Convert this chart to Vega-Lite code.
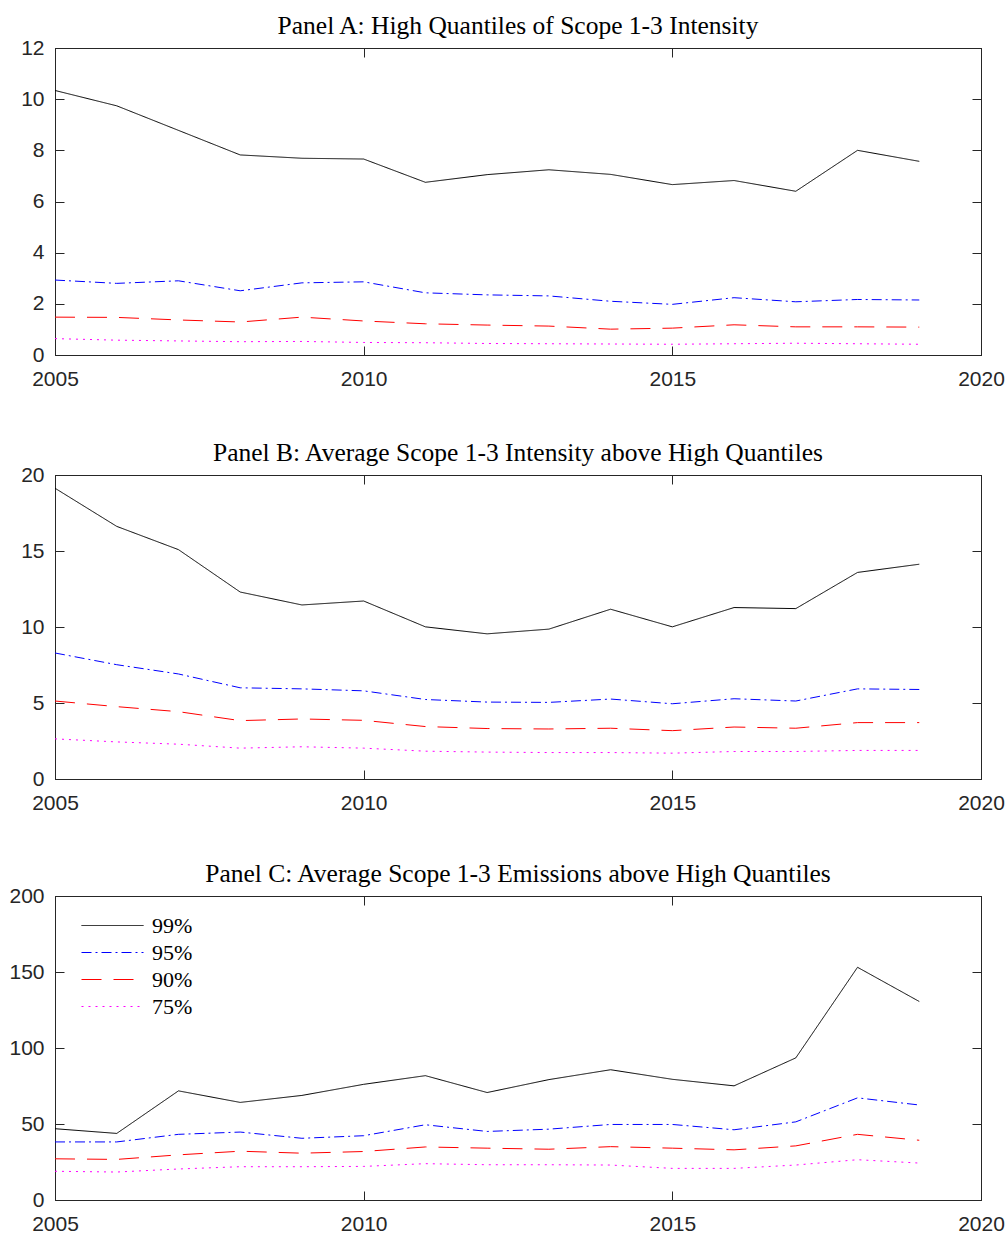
{
  "$schema": "https://vega.github.io/schema/vega-lite/v6.json",
  "autosize": {"type": "pad"},
  "padding": {"top": 13, "left": 8, "right": 2, "bottom": 2},
  "background": "white",
  "config": {
    "view": {"stroke": "#262626", "strokeWidth": 1},
    "axis": {"labelFont": "Liberation Sans", "labelFontSize": 21, "labelColor": "#262626", "domainColor": "#262626", "tickColor": "#262626", "tickSize": -9, "labelPadding": 20, "grid": false, "title": null},
    "axisX": {"labelPadding": 22},
    "title": {"font": "Liberation Serif", "fontSize": 25.5, "fontWeight": "normal", "color": "black", "anchor": "middle", "baseline": "alphabetic", "offset": -2},
    "line": {"strokeWidth": 1}
  },
  "datasets": {
    "A": [
      {"year":2005,"q":"99%","v":10.34},{"year":2006,"q":"99%","v":9.74},{"year":2007,"q":"99%","v":8.78},{"year":2008,"q":"99%","v":7.82},{"year":2009,"q":"99%","v":7.69},{"year":2010,"q":"99%","v":7.66},{"year":2011,"q":"99%","v":6.75},{"year":2012,"q":"99%","v":7.05},{"year":2013,"q":"99%","v":7.24},{"year":2014,"q":"99%","v":7.06},{"year":2015,"q":"99%","v":6.66},{"year":2016,"q":"99%","v":6.82},{"year":2017,"q":"99%","v":6.40},{"year":2018,"q":"99%","v":8.00},{"year":2019,"q":"99%","v":7.57},
      {"year":2005,"q":"95%","v":2.93},{"year":2006,"q":"95%","v":2.80},{"year":2007,"q":"95%","v":2.90},{"year":2008,"q":"95%","v":2.51},{"year":2009,"q":"95%","v":2.82},{"year":2010,"q":"95%","v":2.86},{"year":2011,"q":"95%","v":2.43},{"year":2012,"q":"95%","v":2.35},{"year":2013,"q":"95%","v":2.31},{"year":2014,"q":"95%","v":2.10},{"year":2015,"q":"95%","v":1.98},{"year":2016,"q":"95%","v":2.24},{"year":2017,"q":"95%","v":2.08},{"year":2018,"q":"95%","v":2.17},{"year":2019,"q":"95%","v":2.15},
      {"year":2005,"q":"90%","v":1.48},{"year":2006,"q":"90%","v":1.47},{"year":2007,"q":"90%","v":1.37},{"year":2008,"q":"90%","v":1.29},{"year":2009,"q":"90%","v":1.48},{"year":2010,"q":"90%","v":1.33},{"year":2011,"q":"90%","v":1.22},{"year":2012,"q":"90%","v":1.17},{"year":2013,"q":"90%","v":1.13},{"year":2014,"q":"90%","v":1.01},{"year":2015,"q":"90%","v":1.05},{"year":2016,"q":"90%","v":1.18},{"year":2017,"q":"90%","v":1.10},{"year":2018,"q":"90%","v":1.10},{"year":2019,"q":"90%","v":1.09},
      {"year":2005,"q":"75%","v":0.64},{"year":2006,"q":"75%","v":0.58},{"year":2007,"q":"75%","v":0.55},{"year":2008,"q":"75%","v":0.52},{"year":2009,"q":"75%","v":0.53},{"year":2010,"q":"75%","v":0.49},{"year":2011,"q":"75%","v":0.48},{"year":2012,"q":"75%","v":0.45},{"year":2013,"q":"75%","v":0.44},{"year":2014,"q":"75%","v":0.43},{"year":2015,"q":"75%","v":0.42},{"year":2016,"q":"75%","v":0.44},{"year":2017,"q":"75%","v":0.46},{"year":2018,"q":"75%","v":0.44},{"year":2019,"q":"75%","v":0.42}
    ],
    "B": [
      {"year":2005,"q":"99%","v":19.13},{"year":2006,"q":"99%","v":16.62},{"year":2007,"q":"99%","v":15.09},{"year":2008,"q":"99%","v":12.30},{"year":2009,"q":"99%","v":11.45},{"year":2010,"q":"99%","v":11.71},{"year":2011,"q":"99%","v":10.01},{"year":2012,"q":"99%","v":9.55},{"year":2013,"q":"99%","v":9.86},{"year":2014,"q":"99%","v":11.17},{"year":2015,"q":"99%","v":10.01},{"year":2016,"q":"99%","v":11.28},{"year":2017,"q":"99%","v":11.21},{"year":2018,"q":"99%","v":13.59},{"year":2019,"q":"99%","v":14.13},
      {"year":2005,"q":"95%","v":8.29},{"year":2006,"q":"95%","v":7.52},{"year":2007,"q":"95%","v":6.91},{"year":2008,"q":"95%","v":6.00},{"year":2009,"q":"95%","v":5.93},{"year":2010,"q":"95%","v":5.80},{"year":2011,"q":"95%","v":5.23},{"year":2012,"q":"95%","v":5.06},{"year":2013,"q":"95%","v":5.04},{"year":2014,"q":"95%","v":5.26},{"year":2015,"q":"95%","v":4.95},{"year":2016,"q":"95%","v":5.28},{"year":2017,"q":"95%","v":5.13},{"year":2018,"q":"95%","v":5.93},{"year":2019,"q":"95%","v":5.89},
      {"year":2005,"q":"90%","v":5.13},{"year":2006,"q":"90%","v":4.76},{"year":2007,"q":"90%","v":4.43},{"year":2008,"q":"90%","v":3.84},{"year":2009,"q":"90%","v":3.95},{"year":2010,"q":"90%","v":3.86},{"year":2011,"q":"90%","v":3.45},{"year":2012,"q":"90%","v":3.32},{"year":2013,"q":"90%","v":3.29},{"year":2014,"q":"90%","v":3.34},{"year":2015,"q":"90%","v":3.18},{"year":2016,"q":"90%","v":3.42},{"year":2017,"q":"90%","v":3.34},{"year":2018,"q":"90%","v":3.71},{"year":2019,"q":"90%","v":3.71},
      {"year":2005,"q":"75%","v":2.64},{"year":2006,"q":"75%","v":2.44},{"year":2007,"q":"75%","v":2.29},{"year":2008,"q":"75%","v":2.03},{"year":2009,"q":"75%","v":2.12},{"year":2010,"q":"75%","v":2.03},{"year":2011,"q":"75%","v":1.83},{"year":2012,"q":"75%","v":1.77},{"year":2013,"q":"75%","v":1.74},{"year":2014,"q":"75%","v":1.74},{"year":2015,"q":"75%","v":1.70},{"year":2016,"q":"75%","v":1.81},{"year":2017,"q":"75%","v":1.81},{"year":2018,"q":"75%","v":1.88},{"year":2019,"q":"75%","v":1.88}
    ],
    "C": [
      {"year":2005,"q":"99%","v":46.9},{"year":2006,"q":"99%","v":43.8},{"year":2007,"q":"99%","v":71.8},{"year":2008,"q":"99%","v":64.2},{"year":2009,"q":"99%","v":68.8},{"year":2010,"q":"99%","v":76.1},{"year":2011,"q":"99%","v":81.8},{"year":2012,"q":"99%","v":70.7},{"year":2013,"q":"99%","v":79.2},{"year":2014,"q":"99%","v":85.7},{"year":2015,"q":"99%","v":79.4},{"year":2016,"q":"99%","v":75.1},{"year":2017,"q":"99%","v":93.5},{"year":2018,"q":"99%","v":153.1},{"year":2019,"q":"99%","v":130.6},
      {"year":2005,"q":"95%","v":38.2},{"year":2006,"q":"95%","v":38.2},{"year":2007,"q":"95%","v":43.2},{"year":2008,"q":"95%","v":44.7},{"year":2009,"q":"95%","v":40.6},{"year":2010,"q":"95%","v":42.3},{"year":2011,"q":"95%","v":49.5},{"year":2012,"q":"95%","v":45.1},{"year":2013,"q":"95%","v":46.6},{"year":2014,"q":"95%","v":49.7},{"year":2015,"q":"95%","v":49.7},{"year":2016,"q":"95%","v":46.2},{"year":2017,"q":"95%","v":51.4},{"year":2018,"q":"95%","v":67.2},{"year":2019,"q":"95%","v":62.5},
      {"year":2005,"q":"90%","v":27.1},{"year":2006,"q":"90%","v":26.7},{"year":2007,"q":"90%","v":29.7},{"year":2008,"q":"90%","v":32.1},{"year":2009,"q":"90%","v":30.8},{"year":2010,"q":"90%","v":31.9},{"year":2011,"q":"90%","v":34.9},{"year":2012,"q":"90%","v":34.1},{"year":2013,"q":"90%","v":33.4},{"year":2014,"q":"90%","v":35.1},{"year":2015,"q":"90%","v":34.1},{"year":2016,"q":"90%","v":33.0},{"year":2017,"q":"90%","v":35.6},{"year":2018,"q":"90%","v":43.2},{"year":2019,"q":"90%","v":39.3},
      {"year":2005,"q":"75%","v":18.9},{"year":2006,"q":"75%","v":18.4},{"year":2007,"q":"75%","v":20.4},{"year":2008,"q":"75%","v":21.9},{"year":2009,"q":"75%","v":21.9},{"year":2010,"q":"75%","v":22.1},{"year":2011,"q":"75%","v":23.9},{"year":2012,"q":"75%","v":23.2},{"year":2013,"q":"75%","v":23.2},{"year":2014,"q":"75%","v":23.0},{"year":2015,"q":"75%","v":20.8},{"year":2016,"q":"75%","v":20.8},{"year":2017,"q":"75%","v":23.0},{"year":2018,"q":"75%","v":26.5},{"year":2019,"q":"75%","v":24.3}
    ]
  },
  "resolve": {"scale": {"color": "independent", "strokeDash": "independent"}},
  "spacing": 47,
  "vconcat": [
    {
      "spacing": 50,
      "resolve": {"scale": {"color": "independent", "strokeDash": "independent"}},
      "vconcat": [
        {
          "width": 926, "height": 307,
          "title": {"text": "Panel A: High Quantiles of Scope 1-3 Intensity"},
          "data": {"name": "A"},
          "resolve": {"axis": {"x": "independent", "y": "independent"}},
          "layer": [
            {
              "mark": {"type": "line", "strokeWidth": 1},
              "encoding": {
                "x": {"field": "year", "type": "quantitative", "scale": {"domain": [2005, 2020], "nice": false, "zero": false}, "axis": {"orient": "bottom", "values": [2005, 2010, 2015, 2020], "format": "d", "labelOverlap": false, "labelFlush": false}},
                "y": {"field": "v", "type": "quantitative", "scale": {"domain": [0, 12], "nice": false}, "axis": {"orient": "left", "values": [0, 2, 4, 6, 8, 10, 12]}},
                "color": {"field": "q", "type": "nominal", "scale": {"domain": ["99%", "95%", "90%", "75%"], "range": ["#000000", "#0000ff", "#ff0000", "#ff00ff"]}, "legend": null},
                "strokeDash": {"field": "q", "type": "nominal", "scale": {"domain": ["99%", "95%", "90%", "75%"], "range": [[1, 0], [10, 4, 2, 4], [20, 12], [2, 5]]}, "legend": null}
              }
            },
            {
              "mark": {"type": "line", "opacity": 0},
              "encoding": {
                "x": {"field": "year", "type": "quantitative", "axis": {"orient": "top", "values": [2005, 2010, 2015, 2020], "labels": false}},
                "y": {"field": "v", "type": "quantitative", "axis": {"orient": "right", "values": [0, 2, 4, 6, 8, 10, 12], "labels": false}},
                "detail": {"field": "q"}
              }
            }
          ]
        },
        {
          "width": 926, "height": 304,
          "title": {"text": "Panel B: Average Scope 1-3 Intensity above High Quantiles"},
          "data": {"name": "B"},
          "resolve": {"axis": {"x": "independent", "y": "independent"}},
          "layer": [
            {
              "mark": {"type": "line", "strokeWidth": 1},
              "encoding": {
                "x": {"field": "year", "type": "quantitative", "scale": {"domain": [2005, 2020], "nice": false, "zero": false}, "axis": {"orient": "bottom", "values": [2005, 2010, 2015, 2020], "format": "d", "labelOverlap": false, "labelFlush": false}},
                "y": {"field": "v", "type": "quantitative", "scale": {"domain": [0, 20], "nice": false}, "axis": {"orient": "left", "values": [0, 5, 10, 15, 20]}},
                "color": {"field": "q", "type": "nominal", "scale": {"domain": ["99%", "95%", "90%", "75%"], "range": ["#000000", "#0000ff", "#ff0000", "#ff00ff"]}, "legend": null},
                "strokeDash": {"field": "q", "type": "nominal", "scale": {"domain": ["99%", "95%", "90%", "75%"], "range": [[1, 0], [10, 4, 2, 4], [20, 12], [2, 5]]}, "legend": null}
              }
            },
            {
              "mark": {"type": "line", "opacity": 0},
              "encoding": {
                "x": {"field": "year", "type": "quantitative", "axis": {"orient": "top", "values": [2005, 2010, 2015, 2020], "labels": false}},
                "y": {"field": "v", "type": "quantitative", "axis": {"orient": "right", "values": [0, 5, 10, 15, 20], "labels": false}},
                "detail": {"field": "q"}
              }
            }
          ]
        }
      ]
    },
    {
      "width": 926, "height": 304,
      "title": {"text": "Panel C: Average Scope 1-3 Emissions above High Quantiles"},
      "data": {"name": "C"},
      "resolve": {"axis": {"x": "independent", "y": "independent"}},
      "layer": [
        {
          "mark": {"type": "line", "strokeWidth": 1},
          "encoding": {
            "x": {"field": "year", "type": "quantitative", "scale": {"domain": [2005, 2020], "nice": false, "zero": false}, "axis": {"orient": "bottom", "values": [2005, 2010, 2015, 2020], "format": "d", "labelOverlap": false, "labelFlush": false}},
            "y": {"field": "v", "type": "quantitative", "scale": {"domain": [0, 200], "nice": false}, "axis": {"orient": "left", "values": [0, 50, 100, 150, 200]}},
            "color": {"field": "q", "type": "nominal", "scale": {"domain": ["99%", "95%", "90%", "75%"], "range": ["#000000", "#0000ff", "#ff0000", "#ff00ff"]},
              "legend": {"orient": "none", "legendX": 26, "legendY": 16, "title": null, "symbolType": "stroke", "symbolSize": 3844, "symbolStrokeWidth": 1, "labelFont": "Liberation Serif", "labelFontSize": 22, "labelColor": "black", "labelOffset": 8, "rowPadding": 0, "clipHeight": 27,
                "encode": {"symbols": {"update": {"stroke": {"signal": "datum.value === '99%' ? '#000000' : datum.value === '95%' ? '#0000ff' : datum.value === '90%' ? '#ff0000' : '#ff00ff'"}}}}}},
            "strokeDash": {"field": "q", "type": "nominal", "scale": {"domain": ["99%", "95%", "90%", "75%"], "range": [[1, 0], [10, 4, 2, 4], [20, 12], [2, 5]]},
              "legend": {"orient": "none", "legendX": 26, "legendY": 16, "title": null, "symbolType": "stroke", "symbolSize": 3844, "symbolStrokeWidth": 1, "labelFont": "Liberation Serif", "labelFontSize": 22, "labelColor": "black", "labelOffset": 8, "rowPadding": 0, "clipHeight": 27,
                "encode": {"symbols": {"update": {"stroke": {"signal": "datum.value === '99%' ? '#000000' : datum.value === '95%' ? '#0000ff' : datum.value === '90%' ? '#ff0000' : '#ff00ff'"}}}}}}
          }
        },
        {
          "mark": {"type": "line", "opacity": 0},
          "encoding": {
            "x": {"field": "year", "type": "quantitative", "axis": {"orient": "top", "values": [2005, 2010, 2015, 2020], "labels": false}},
            "y": {"field": "v", "type": "quantitative", "axis": {"orient": "right", "values": [0, 50, 100, 150, 200], "labels": false}},
            "detail": {"field": "q"}
          }
        }
      ]
    }
  ]
}
